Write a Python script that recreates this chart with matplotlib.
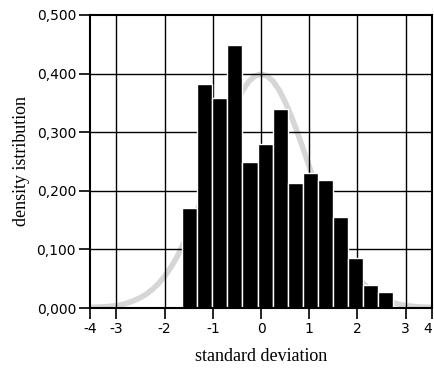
import matplotlib.pyplot as plt

# histogram (bin left edges, bin width, heights)
bin_start = -1.64
bin_width = 0.3135
bar_heights = [0.170, 0.382, 0.358, 0.449, 0.249, 0.280, 0.340,
               0.213, 0.231, 0.219, 0.155, 0.085, 0.040, 0.028]

# gray reference curve
curve_x = [-3.55, -3.25, -3.0, -2.875, -2.75, -2.625, -2.5, -2.375, -2.25, -2.125,
           -2.0, -1.875, -1.75, -1.625, -1.5, -1.375, -1.25, -1.125, -1.0, -0.875,
           -0.75, -0.625, -0.5, -0.375, -0.25, -0.125, 0.0, 0.125, 0.25, 0.375,
           0.5, 0.625, 0.75, 0.875, 1.0, 1.125, 1.25, 1.375, 1.5, 1.625,
           1.75, 1.875, 2.0, 2.125, 2.25, 2.375, 2.5, 2.625, 2.75, 2.875,
           3.0, 3.25, 3.55]
curve_y = [0.001, 0.002, 0.004, 0.006, 0.009, 0.013, 0.018, 0.024, 0.032, 0.042,
           0.054, 0.069, 0.086, 0.107, 0.130, 0.155, 0.183, 0.212, 0.242, 0.272,
           0.301, 0.328, 0.352, 0.372, 0.387, 0.396, 0.399, 0.396, 0.387, 0.372,
           0.352, 0.328, 0.301, 0.272, 0.242, 0.212, 0.183, 0.155, 0.130, 0.107,
           0.086, 0.069, 0.054, 0.042, 0.032, 0.024, 0.018, 0.013, 0.009, 0.006,
           0.004, 0.002, 0.001]

x_min, x_max = -3.55, 3.55
x_ticks = [x_min, -3, -2, -1, 0, 1, 2, 3, x_max]
x_labels = ['-4', '-3', '-2', '-1', '0', '1', '2', '3', '4']
y_ticks = [0.0, 0.1, 0.2, 0.3, 0.4, 0.5]
y_labels = ['0,000', '0,100', '0,200', '0,300', '0,400', '0,500']

fig = plt.figure(figsize=(4.34, 3.74), dpi=100)
ax = fig.add_axes([90 / 434, 1 - 308 / 374, 342 / 434, 293 / 374])

ax.plot(curve_x, curve_y, color='#d6d6d6', linewidth=4, zorder=1,
        solid_capstyle='round')

lefts = [bin_start + i * bin_width for i in range(len(bar_heights))]
ax.bar(lefts, bar_heights, width=bin_width, align='edge', color='black',
       edgecolor='white', linewidth=1.0, zorder=3)

for v in [-3, -2, -1, 0, 1, 2, 3]:
    ax.axvline(v, color='black', linewidth=1.0, zorder=2)
for v in [0.1, 0.2, 0.3, 0.4]:
    ax.axhline(v, color='black', linewidth=1.0, zorder=2)

ax.set_xlim(x_min, x_max)
ax.set_ylim(0, 0.5)
ax.set_xticks(x_ticks)
ax.set_xticklabels(x_labels)
ax.set_yticks(y_ticks)
ax.set_yticklabels(y_labels)
ax.tick_params(direction='out', length=8, width=1.2, labelsize=10, pad=2)
ax.get_xticklabels()[-1].set_horizontalalignment('right')

for s in ax.spines.values():
    s.set_linewidth(1.5)
    s.set_zorder(4)

serif = dict(family='Liberation Serif', fontsize=13)
ax.set_xlabel('standard deviation', labelpad=9, **serif)
ax.set_ylabel('density istribution', labelpad=5, **serif)

fig.savefig('out.png', dpi=100)
